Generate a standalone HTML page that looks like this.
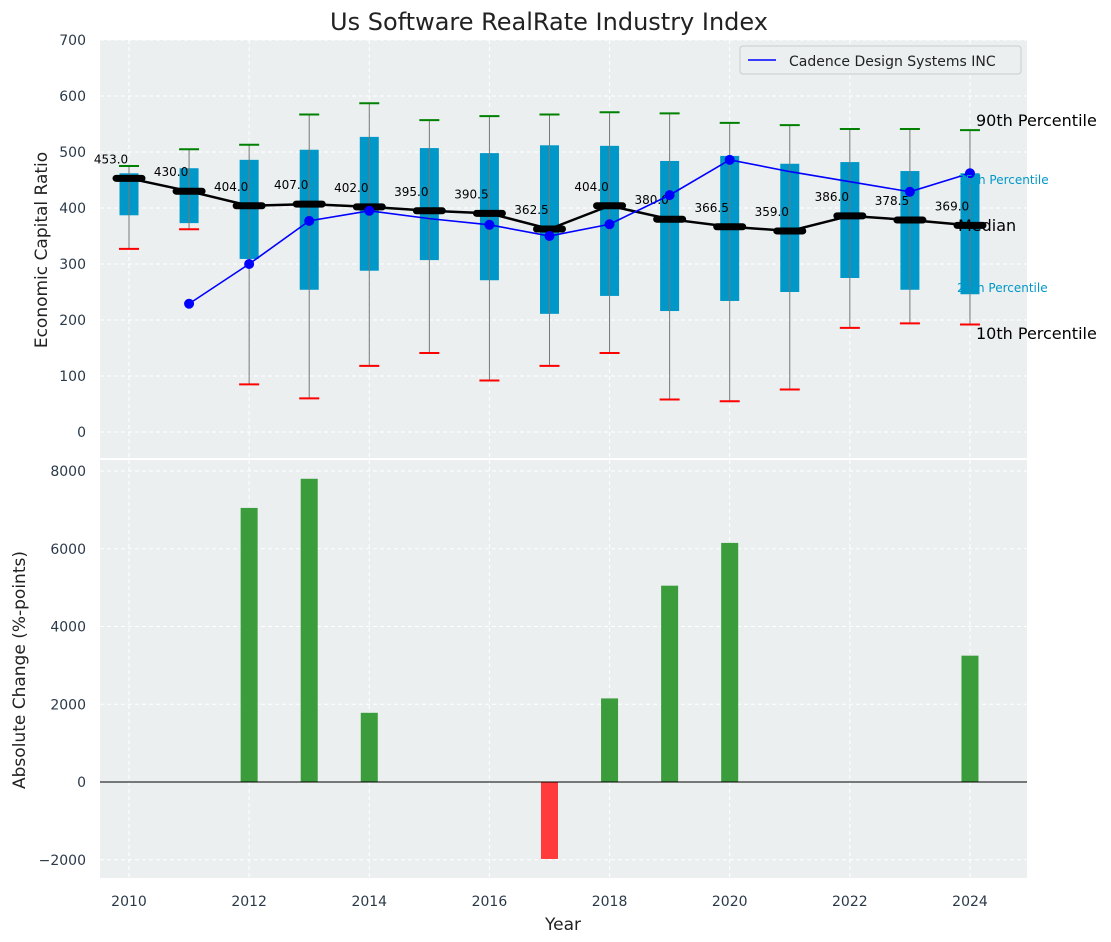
<!DOCTYPE html>
<html><head><meta charset="utf-8"><style>
body{margin:0;background:#fff;font-family:"DejaVu Sans","Liberation Sans",sans-serif;overflow:hidden}
</style></head><body>
<svg id="c" width="1111" height="942" xmlns="http://www.w3.org/2000/svg" style="font-family:'DejaVu Sans','Liberation Sans',sans-serif;display:block"></svg>
<script>
const years=[2010,2011,2012,2013,2014,2015,2016,2017,2018,2019,2020,2021,2022,2023,2024];
const medians=[453,430,404,407,402,395,390.5,362.5,404,380,366.5,359,386,378.5,369];
const q1=[387,373,309,254,288,307,271,211,243,216,234,250,275,254,246];
const q3=[462,471,486,504,527,507,498,512,511,484,493,479,482,466,462];
const p10=[327,362,85,60,118,141,92,118,141,58,55,76,186,194,192];
const p90=[475,505,513,567,587,557,564,567,571,569,552,548,541,541,539];
const cadYears=[2011,2012,2013,2014,2015,2016,2017,2018,2019,2020,2021,2022,2023,2024];
const cadence=[229,300,377,395,381,370,350,371,423,486,465,447,429,462];
const cadMarker=[1,1,1,1,0,1,1,1,1,1,0,0,1,1];
const changes=[0,0,7050,7800,1780,0,0,-1980,2150,5050,6150,0,0,0,3250];
const topTicks=[0,100,200,300,400,500,600,700];
const botTicks=[-2000,0,2000,4000,6000,8000];
const xTicks=[2010,2012,2014,2016,2018,2020,2022,2024];

const svg=document.getElementById('c');const NS='http://www.w3.org/2000/svg';
function el(t,a,txt){const e=document.createElementNS(NS,t);for(const k in a)e.setAttribute(k,a[k]);if(txt!==undefined)e.textContent=txt;svg.appendChild(e);return e;}
const X=v=>129+(v-2010)*60.07;
const Y1=v=>432-v*0.56;
const Y2=v=>782-v*0.038875;
const L=100,R=1027;
let e;
e=el('rect',{x:L,y:40,width:R-L,height:418,fill:'#ebeff0'});

e=el('rect',{x:L,y:460,width:R-L,height:418,fill:'#ebeff0'});

xTicks.forEach(t=>{el('line',{x1:X(t),x2:X(t),y1:40,y2:458,stroke:'#fff','stroke-dasharray':'4,3'});el('line',{x1:X(t),x2:X(t),y1:460,y2:878,stroke:'#fff','stroke-dasharray':'4,3'});
 e=el('text',{x:X(t),y:906,'text-anchor':'middle','font-size':14,fill:'#2b3a4a'},t);});
topTicks.forEach(t=>{el('line',{x1:L,x2:R,y1:Y1(t),y2:Y1(t),stroke:'#fff','stroke-dasharray':'4,3'});
 e=el('text',{x:86,y:Y1(t)+5,'text-anchor':'end','font-size':14,fill:'#2b3a4a'},t);});
botTicks.forEach(t=>{el('line',{x1:L,x2:R,y1:Y2(t),y2:Y2(t),stroke:'#fff','stroke-dasharray':'4,3'});
 e=el('text',{x:86,y:Y2(t)+5,'text-anchor':'end','font-size':14,fill:'#2b3a4a'},t<0?'\u2212'+(-t):t);});
years.forEach((y,i)=>{const x=X(y);
 e=el('rect',{x:x-9.5,y:Y1(q3[i]),width:19,height:Y1(q1[i])-Y1(q3[i]),fill:'#0098c8'});
 el('line',{x1:x,x2:x,y1:Y1(p90[i]),y2:Y1(p10[i]),stroke:'#777','stroke-width':1});
 e=el('line',{x1:x-10,x2:x+10,y1:Y1(p90[i]),y2:Y1(p90[i]),stroke:'green','stroke-width':2});
 e=el('line',{x1:x-10,x2:x+10,y1:Y1(p10[i]),y2:Y1(p10[i]),stroke:'red','stroke-width':2});
});
e=el('polyline',{points:years.map((y,i)=>X(y)+','+Y1(medians[i])).join(' '),fill:'none',stroke:'#000','stroke-width':2.5});

years.forEach((y,i)=>{const x=X(y);
 e=el('line',{x1:x-13,x2:x+13,y1:Y1(medians[i]),y2:Y1(medians[i]),stroke:'#000','stroke-width':7,'stroke-linecap':'round'});
 e=el('text',{x:x-18,y:Y1(medians[i])-15,'text-anchor':'middle','font-size':12,fill:'#000'},medians[i].toFixed(1));
});
e=el('polyline',{points:cadYears.map((y,i)=>X(y)+','+Y1(cadence[i])).join(' '),fill:'none',stroke:'blue','stroke-width':1.6});

cadYears.forEach((y,i)=>{if(cadMarker[i]){e=el('circle',{cx:X(y),cy:Y1(cadence[i]),r:5,fill:'blue'});}});
[['90th Percentile',976,126,16,'#000'],['75th Percentile',958,184,12,'#0098c8'],['Median',958,231,16,'#000'],['25th Percentile',957,292,12,'#0098c8'],['10th Percentile',976,339,16,'#000']].forEach(a=>{
 e=el('text',{x:a[1],y:a[2],'font-size':a[3],fill:a[4]},a[0]);});
e=el('rect',{x:740,y:46,width:281,height:28,fill:'#ebeff0',stroke:'#ccc',rx:3});
el('line',{x1:748,x2:776,y1:60,y2:60,stroke:'blue','stroke-width':1.6});
e=el('text',{x:789,y:66,'font-size':14,fill:'#222'},'Cadence Design Systems INC');
years.forEach((y,i)=>{const v=changes[i];if(!v)return;
 e=el('rect',{x:X(y)-8.5,y:Math.min(Y2(v),Y2(0)),width:17,height:Math.abs(Y2(v)-Y2(0)),fill:v>0?'#3a9c3a':'#ff3b3b'});});
el('line',{x1:L,x2:R,y1:Y2(0),y2:Y2(0),stroke:'#000','stroke-width':1});
e=el('text',{x:549,y:30,'text-anchor':'middle','font-size':24,fill:'#222'},'Us Software RealRate Industry Index');
e=el('text',{x:563,y:930,'text-anchor':'middle','font-size':17,fill:'#222'},'Year');
e=el('text',{x:0,y:0,'text-anchor':'middle','font-size':17,fill:'#222',transform:'translate(47,250) rotate(-90)'},'Economic Capital Ratio');
e=el('text',{x:0,y:0,'text-anchor':'middle','font-size':17,fill:'#222',transform:'translate(25,670) rotate(-90)'},'Absolute Change (%-points)');
</script>
</body></html>
